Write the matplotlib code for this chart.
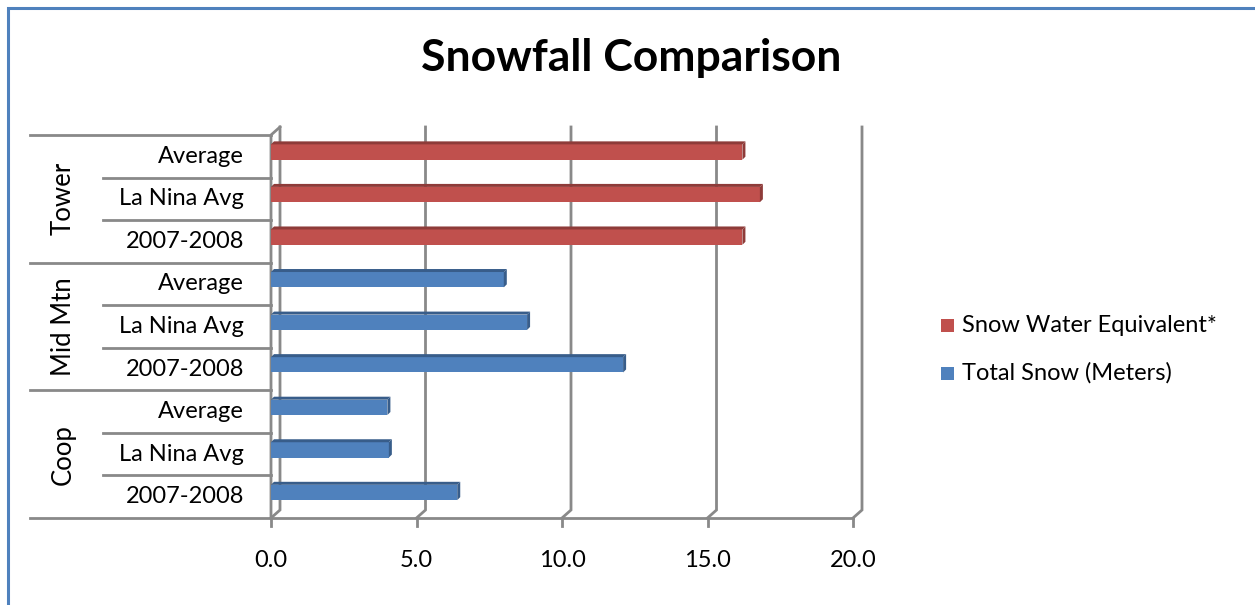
import matplotlib.pyplot as plt
from matplotlib.patches import Polygon, Rectangle
import numpy as np

plt.rcParams['font.family'] = ['Lato', 'DejaVu Sans']

# datos (de abajo hacia arriba)
groups = ['Coop', 'Mid Mtn', 'Tower']
periods = ['2007-2008', 'La Nina Avg', 'Average']
swe = [np.nan, np.nan, np.nan, np.nan, np.nan, np.nan, 16.2, 16.8, 16.2]
total_snow = [6.4, 4.05, 4.0, 12.1, 8.8, 8.0, np.nan, np.nan, np.nan]
xticks = [0, 5, 10, 15, 20]

red = '#C0504D'
red_dark = '#8E3B39'
blue = '#4F81BD'
blue_dark = '#385D8A'
grid_c = '#898989'

W, H = 1255, 605
fig = plt.figure(figsize=(W / 100, H / 100), dpi=100)
fig.patch.set_facecolor('white')

# marco del grafico
fig.patches.append(Rectangle((8 / W, -0.05), 1.2, 1.05 - 8 / H, transform=fig.transFigure,
                             fill=False, edgecolor='#4F81BD', lw=2.2))

x0, x1 = 271, 853
ytop, ybot = 135, 518
ax = fig.add_axes([x0 / W, (H - ybot) / H, (x1 - x0) / W, (ybot - ytop) / H])
ax.set_xlim(0, 20)
ax.set_ylim(0, 9)
ax.axis('off')

n = len(swe)
# profundidad del efecto 3D en unidades de datos
ddx = 9 / (x1 - x0) * 20
ddy = 8 / (ybot - ytop) * 9
bdx = 3 / (x1 - x0) * 20
bdy = 3 / (ybot - ytop) * 9
lw = 2.0

# lineas de la cuadricula (plano de fondo)
for v in xticks:
    ax.plot([v, v + ddx, v + ddx], [0, ddy, n + ddy], color=grid_c, lw=lw,
            clip_on=False, zorder=1, solid_joinstyle='miter')
    ax.plot([v, v], [0, -8 / 42.5], color=grid_c, lw=lw, clip_on=False, zorder=1)
ax.plot([0, 20], [0, 0], color=grid_c, lw=lw, clip_on=False, zorder=1)
ax.plot([0, 0, ddx], [0, n, n + ddy], color=grid_c, lw=lw, clip_on=False, zorder=1)

# eje de categorias
for k in range(n + 1):
    xs = -0.414 if k % 3 == 0 else -0.289
    ax.plot([xs, 0], [k, k], color=grid_c, lw=lw, clip_on=False,
            transform=ax.get_yaxis_transform(), zorder=1)

for k in range(n):
    ax.text(-0.046, k + 0.5, periods[k % 3], transform=ax.get_yaxis_transform(),
            ha='right', va='center', fontsize=17)
for g, name in enumerate(groups):
    ax.text(-0.357, g * 3 + 1.5, name, transform=ax.get_yaxis_transform(),
            ha='center', va='center', rotation=90, fontsize=18.5)

for v in xticks:
    ax.text(v, -1.0, f'{v:.1f}', ha='center', va='center', fontsize=17)


def bars3d(values, face, dark):
    yc = np.arange(n) + 0.6
    h = 0.36
    ax.barh(yc, values, height=h, left=0, color=face, zorder=3, label=None)
    for y, val in zip(yc, values):
        if np.isnan(val):
            continue
        top = Polygon([(0, y + h / 2), (val, y + h / 2), (val + bdx, y + h / 2 + bdy),
                       (bdx, y + h / 2 + bdy)], closed=True, facecolor=dark,
                      edgecolor='none', zorder=3)
        side = Polygon([(val, y - h / 2), (val + bdx, y - h / 2 + bdy),
                        (val + bdx, y + h / 2 + bdy), (val, y + h / 2)], closed=True,
                       facecolor=dark, edgecolor='none', zorder=3)
        ax.add_patch(top)
        ax.add_patch(side)


bars3d(swe, red, red_dark)
bars3d(total_snow, blue, blue_dark)

fig.text(631 / W, 1 - 58 / H, 'Snowfall Comparison', ha='center', va='center',
         fontsize=32, fontweight='bold')

# leyenda
for i, (lab, c) in enumerate([('Snow Water Equivalent*', red), ('Total Snow (Meters)', blue)]):
    yy = 1 - (325 + 48 * i) / H
    fig.patches.append(Rectangle((941 / W, yy - 6.5 / H), 13 / W, 13 / H,
                                 transform=fig.transFigure, facecolor=c, edgecolor='none'))
    fig.text(962 / W, yy, lab, ha='left', va='center', fontsize=17)

fig.savefig('out.png', dpi=100)
